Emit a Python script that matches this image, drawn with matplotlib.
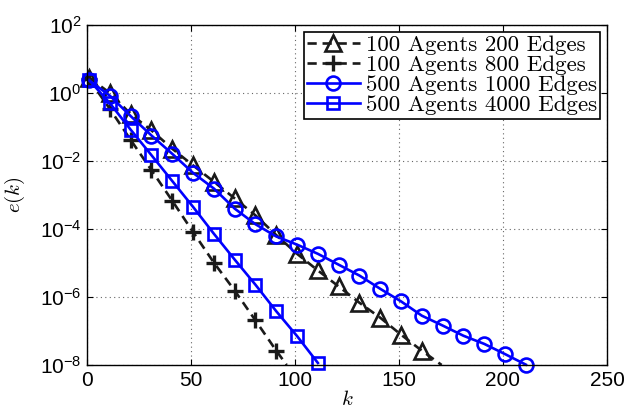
import matplotlib
matplotlib.use('Agg')
import matplotlib.pyplot as plt
from matplotlib.font_manager import FontProperties
from matplotlib.ticker import FuncFormatter
import numpy as np

plt.rcParams['mathtext.fontset'] = 'custom'
plt.rcParams['mathtext.rm'] = 'cmr10'
plt.rcParams['mathtext.it'] = 'cmmi10'
plt.rcParams['mathtext.sf'] = 'Liberation Sans'
plt.rcParams['font.family'] = ['Liberation Sans', 'DejaVu Sans']

# iteration index where markers sit (last entry of dashed series = where line leaves the axes)
k_tri = [1, 11, 21, 31, 41, 51, 61, 71, 81, 91, 101, 111, 121, 131, 141, 151, 161, 170.5]
log_tri = [0.45, 0.0, -0.62, -1.10, -1.64, -2.13, -2.61, -3.10, -3.60, -4.18, -4.73,
           -5.22, -5.69, -6.17, -6.61, -7.11, -7.58, -8.0]

k_plus = [1, 11, 21, 31, 41, 51, 61, 71, 81, 91, 96]
log_plus = [0.40, -0.47, -1.38, -2.27, -3.17, -4.09, -4.99, -5.81, -6.69, -7.58, -8.0]

k_circ = [1, 11, 21, 31, 41, 51, 61, 71, 81, 91, 101, 111, 121, 131, 141, 151, 161,
          171, 181, 191, 201, 211]
log_circ = [0.37, -0.08, -0.68, -1.25, -1.79, -2.35, -2.81, -3.40, -3.86, -4.22, -4.46,
            -4.73, -5.05, -5.37, -5.76, -6.13, -6.55, -6.84, -7.14, -7.38, -7.68, -7.99]

k_sq = [1, 11, 21, 31, 41, 51, 61, 71, 81, 91, 101, 111]
log_sq = [0.38, -0.30, -1.08, -1.83, -2.59, -3.35, -4.14, -4.90, -5.64, -6.42, -7.15, -7.94]

labels = ['100 Agents 200 Edges', '100 Agents 800 Edges',
          '500 Agents 1000 Edges', '500 Agents 4000 Edges']

fig = plt.figure(figsize=(6.38, 4.12), dpi=100)
ax = fig.add_axes([87 / 638, 1 - 365 / 412, 520 / 638, 340 / 412])

dash = (0, (3.5, 2.2))
ax.plot(k_tri, 10.0 ** np.array(log_tri), color='#1a1a1a', linestyle=dash, lw=1.9,
        marker='^', ms=11, mfc='none', mew=1.9, markevery=list(range(len(k_tri) - 1)),
        clip_on=False, label=labels[0])
ax.plot(k_plus, 10.0 ** np.array(log_plus), color='#1a1a1a', linestyle=dash, lw=1.9,
        marker='+', ms=11, mew=2.4, markevery=list(range(len(k_plus) - 1)),
        clip_on=False, label=labels[1])
ax.plot(k_circ, 10.0 ** np.array(log_circ), color='#0000ff', linestyle='-', lw=1.9,
        marker='o', ms=10, mfc='none', mew=1.9, clip_on=False, label=labels[2])
ax.plot(k_sq, 10.0 ** np.array(log_sq), color='#0000ff', linestyle='-', lw=1.9,
        marker='s', ms=8.5, mfc='none', mew=1.9, clip_on=False, label=labels[3])

ax.set_yscale('log')
ax.set_xlim(0, 250)
ax.set_ylim(1e-8, 1e2)
ax.set_xticks([0, 50, 100, 150, 200, 250])
ax.set_yticks([1e-8, 1e-6, 1e-4, 1e-2, 1e0, 1e2])
ax.yaxis.set_minor_locator(matplotlib.ticker.NullLocator())
ax.yaxis.set_major_formatter(FuncFormatter(lambda v, p: r'$\mathsf{10^{%d}}$' % round(np.log10(v))))
ax.tick_params(direction='in', top=True, right=True, labelsize=15, length=4, width=0.8, pad=4)
ax.grid(True, linestyle=(0, (1, 3)), color='#666666', linewidth=0.8)
for s in ax.spines.values():
    s.set_linewidth(1.0)

ax.set_xlabel('$k$', fontsize=15, labelpad=0)
ax.set_ylabel('$e(k)$', fontsize=15)
ax.yaxis.set_label_coords(-0.115, 0.5)

leg = ax.legend(loc='upper right', prop=FontProperties(family='cmr10', size=16.5),
                handlelength=2.3, handletextpad=0.25, labelspacing=0.0,
                borderaxespad=0.3, borderpad=0.15, fancybox=False, framealpha=1,
                edgecolor='black')
leg.get_frame().set_linewidth(1.2)

fig.savefig('out.png', dpi=100)
